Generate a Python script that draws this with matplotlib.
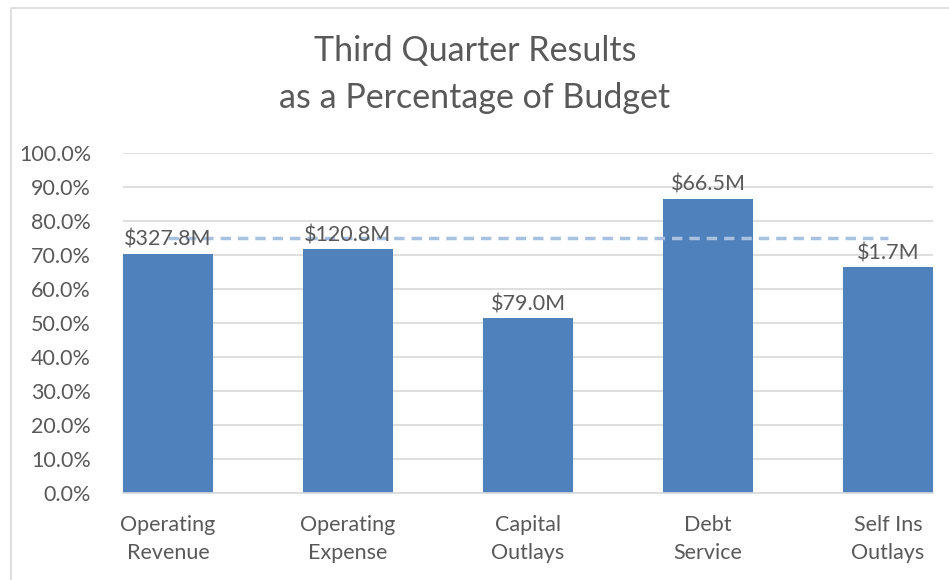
import matplotlib
matplotlib.use("Agg")
import matplotlib.pyplot as plt
from matplotlib.patches import Rectangle
from matplotlib.ticker import PercentFormatter

categories = ["Operating\nRevenue", "Operating\nExpense", "Capital\nOutlays", "Debt\nService", "Self Ins\nOutlays"]
pct_of_budget = [70.3, 71.7, 51.4, 86.6, 66.4]
amount_labels = ["$327.8M", "$120.8M", "$79.0M", "$66.5M", "$1.7M"]
target_pct = 75.0

plt.rcParams["font.family"] = ["Lato", "DejaVu Sans"]
TXT = "#595959"
FS = 15.5

fig = plt.figure(figsize=(9.49, 5.8), dpi=100)
# chart frame (cut off on the right and bottom, like the screenshot)
fig.patches.append(Rectangle((11 / 949, -0.05), 1.0, 1 - 8 / 580 + 0.05, transform=fig.transFigure,
                             fill=False, edgecolor="#d9d9d9", linewidth=1.2))

ax = fig.add_axes([123 / 949, 1 - 493 / 580, (933 - 123) / 949, (493 - 153) / 580])
x = range(len(categories))
bars = ax.bar(x, pct_of_budget, width=0.5, color="#4f81bd", zorder=2)
ax.plot([0, len(categories) - 1], [target_pct, target_pct], color="#a9c1e0",
        linestyle=(0, (3, 2)), linewidth=2.5, zorder=3)
ax.bar_label(bars, labels=amount_labels, padding=3, fontsize=FS, color=TXT, zorder=4)

ax.set_xlim(-0.25, len(categories) - 0.75)
ax.set_ylim(0, 100)
ax.set_yticks(range(0, 101, 10))
ax.yaxis.set_major_formatter(PercentFormatter(decimals=1))
ax.set_xticks(list(x))
ax.set_xticklabels(categories, fontsize=FS, color=TXT, linespacing=1.5)
ax.tick_params(axis="y", labelsize=FS, labelcolor=TXT, length=0, pad=23)
ax.tick_params(axis="x", length=0, pad=16)
ax.grid(axis="y", color="#d9d9d9", linewidth=1.2, zorder=0)
for s in ["top", "right", "left"]:
    ax.spines[s].set_visible(False)
ax.spines["bottom"].set_color("#d9d9d9")
ax.spines["bottom"].set_linewidth(1.2)

fig.text(475 / 949, 1 - 51 / 580, "Third Quarter Results", ha="center", va="center", fontsize=24.5, color=TXT)
fig.text(475 / 949, 1 - 98 / 580, "as a Percentage of Budget", ha="center", va="center", fontsize=24.5, color=TXT)

fig.savefig("out.png", dpi=100)
